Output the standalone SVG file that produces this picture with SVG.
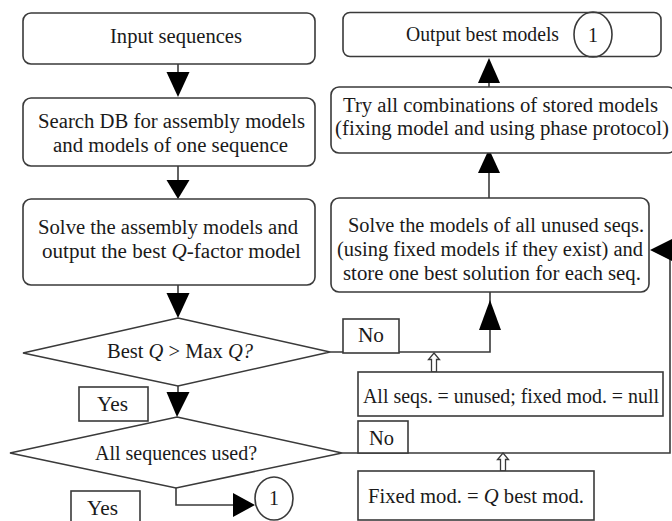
<svg xmlns="http://www.w3.org/2000/svg" width="672" height="521" viewBox="0 0 672 521">
<style>
.box{fill:#fff;stroke:#3a3a3a;stroke-width:1.6}
.ln{fill:none;stroke:#3a3a3a;stroke-width:1.6}
.ah{fill:#000;stroke:none}
.ho{fill:#fff;stroke:#3a3a3a;stroke-width:1.3}
text{font-family:"Liberation Serif","Times New Roman",serif;font-size:20px;fill:#1a1a1a}
.i{font-style:italic}
</style>
<rect width="672" height="521" fill="#fff"/>
<g id="connectors">
  <line class="ln" x1="178" y1="64" x2="178" y2="74"/>
  <polygon class="ah" points="166.5,72 189.5,72 178,97"/>
  <line class="ln" x1="178" y1="166" x2="178" y2="182"/>
  <polygon class="ah" points="166.5,180 189.5,180 178,199"/>
  <line class="ln" x1="178" y1="285" x2="178" y2="295"/>
  <polygon class="ah" points="166.5,293 189.5,293 178,318"/>
  <line class="ln" x1="178" y1="386" x2="178" y2="394"/>
  <polygon class="ah" points="166.5,392 189.5,392 177,417"/>
  <polyline class="ln" points="176,488 176,505 235,505"/>
  <polygon class="ah" points="233,493 233,517 255,505"/>
  <polyline class="ln" points="330,352 490,352 490,292"/>
  <polygon class="ah" points="479,330 501,330 490,300"/>
  <line class="ln" x1="489" y1="198" x2="489" y2="171"/>
  <polygon class="ah" points="478,173 500,173 489,149"/>
  <line class="ln" x1="489" y1="87" x2="489" y2="81"/>
  <polygon class="ah" points="478,83 500,83 489,58"/>
  <polyline class="ln" points="342,453 670,453 670,250"/>
  <polygon class="ah" points="674,238 674,262 650,250"/>
  <polygon class="ho" points="434,353 439.5,359.5 436.5,359.5 436.5,372 431.5,372 431.5,359.5 428.5,359.5"/>
  <polygon class="ho" points="503,453 508.5,459.5 505.5,459.5 505.5,471 500.5,471 500.5,459.5 497.5,459.5"/>
</g>
<g id="input">
  <rect class="box" x="23" y="13" width="292" height="51" rx="8"/>
  <text x="110" y="43" textLength="132" lengthAdjust="spacingAndGlyphs">Input sequences</text>
</g>
<g id="search">
  <rect class="box" x="23" y="98" width="292" height="68" rx="8"/>
  <text x="38" y="128" textLength="267" lengthAdjust="spacingAndGlyphs">Search DB for assembly models</text>
  <text x="53" y="152" textLength="235" lengthAdjust="spacingAndGlyphs">and models of one sequence</text>
</g>
<g id="solveAssembly">
  <rect class="box" x="23" y="199" width="292" height="86" rx="8"/>
  <text x="38" y="234" textLength="260" lengthAdjust="spacingAndGlyphs">Solve the assembly models and</text>
  <text x="42" y="258" textLength="259" lengthAdjust="spacingAndGlyphs">output the best <tspan class="i">Q</tspan>-factor model</text>
</g>
<g id="decision1">
  <polygon class="box" points="178,318 330,352 178,386 23,353"/>
  <text x="107" y="358" textLength="146" lengthAdjust="spacingAndGlyphs">Best <tspan class="i">Q</tspan> &gt; Max <tspan class="i">Q?</tspan></text>
</g>
<g id="yes1">
  <rect class="box" x="79" y="387" width="69" height="34"/>
  <text x="97" y="411" textLength="31" lengthAdjust="spacingAndGlyphs">Yes</text>
</g>
<g id="decision2">
  <polygon class="box" points="177,417 342,453 176,488 10,453"/>
  <text x="95" y="460" textLength="162" lengthAdjust="spacingAndGlyphs">All sequences used?</text>
</g>
<g id="yes2">
  <rect class="box" x="71" y="491" width="69" height="40"/>
  <text x="87" y="515" textLength="31" lengthAdjust="spacingAndGlyphs">Yes</text>
</g>
<g id="connector1Bottom">
  <ellipse class="box" cx="274" cy="498.5" rx="19" ry="21.5"/>
  <text x="274" y="505" text-anchor="middle">1</text>
</g>
<g id="outputBest">
  <rect class="box" x="343" y="12.5" width="318" height="44" rx="7"/>
  <text x="406" y="41" textLength="153" lengthAdjust="spacingAndGlyphs">Output best models</text>
  <ellipse class="ln" cx="593" cy="34.5" rx="19" ry="22.5"/>
  <text x="593" y="42" text-anchor="middle">1</text>
</g>
<g id="tryAll">
  <rect class="box" x="331" y="87" width="345" height="66" rx="8"/>
  <text x="343" y="112" textLength="315" lengthAdjust="spacingAndGlyphs">Try all combinations of stored models</text>
  <text x="335" y="135" textLength="334" lengthAdjust="spacingAndGlyphs">(fixing model and using phase protocol)</text>
</g>
<g id="solveModels">
  <rect class="box" x="331" y="198" width="318" height="94" rx="8"/>
  <text x="348" y="232" textLength="296" lengthAdjust="spacingAndGlyphs">Solve the models of all unused seqs.</text>
  <text x="337" y="256" textLength="306" lengthAdjust="spacingAndGlyphs">(using fixed models if they exist) and</text>
  <text x="343" y="280" textLength="298" lengthAdjust="spacingAndGlyphs">store one best solution for each seq.</text>
</g>
<g id="no1">
  <rect class="box" x="343" y="319" width="56" height="34"/>
  <text x="358" y="342" textLength="26" lengthAdjust="spacingAndGlyphs">No</text>
</g>
<g id="resetBox">
  <rect class="box" x="358" y="372" width="305" height="44"/>
  <text x="363" y="403" textLength="296" lengthAdjust="spacingAndGlyphs">All seqs. = unused; fixed mod. = null</text>
</g>
<g id="no2">
  <rect class="box" x="358" y="421" width="50" height="32"/>
  <text x="369" y="445" textLength="25" lengthAdjust="spacingAndGlyphs">No</text>
</g>
<g id="fixedBox">
  <rect class="box" x="358" y="471" width="236" height="49"/>
  <text x="368" y="503" textLength="216" lengthAdjust="spacingAndGlyphs">Fixed mod. = <tspan class="i">Q</tspan> best mod.</text>
</g>
</svg>
